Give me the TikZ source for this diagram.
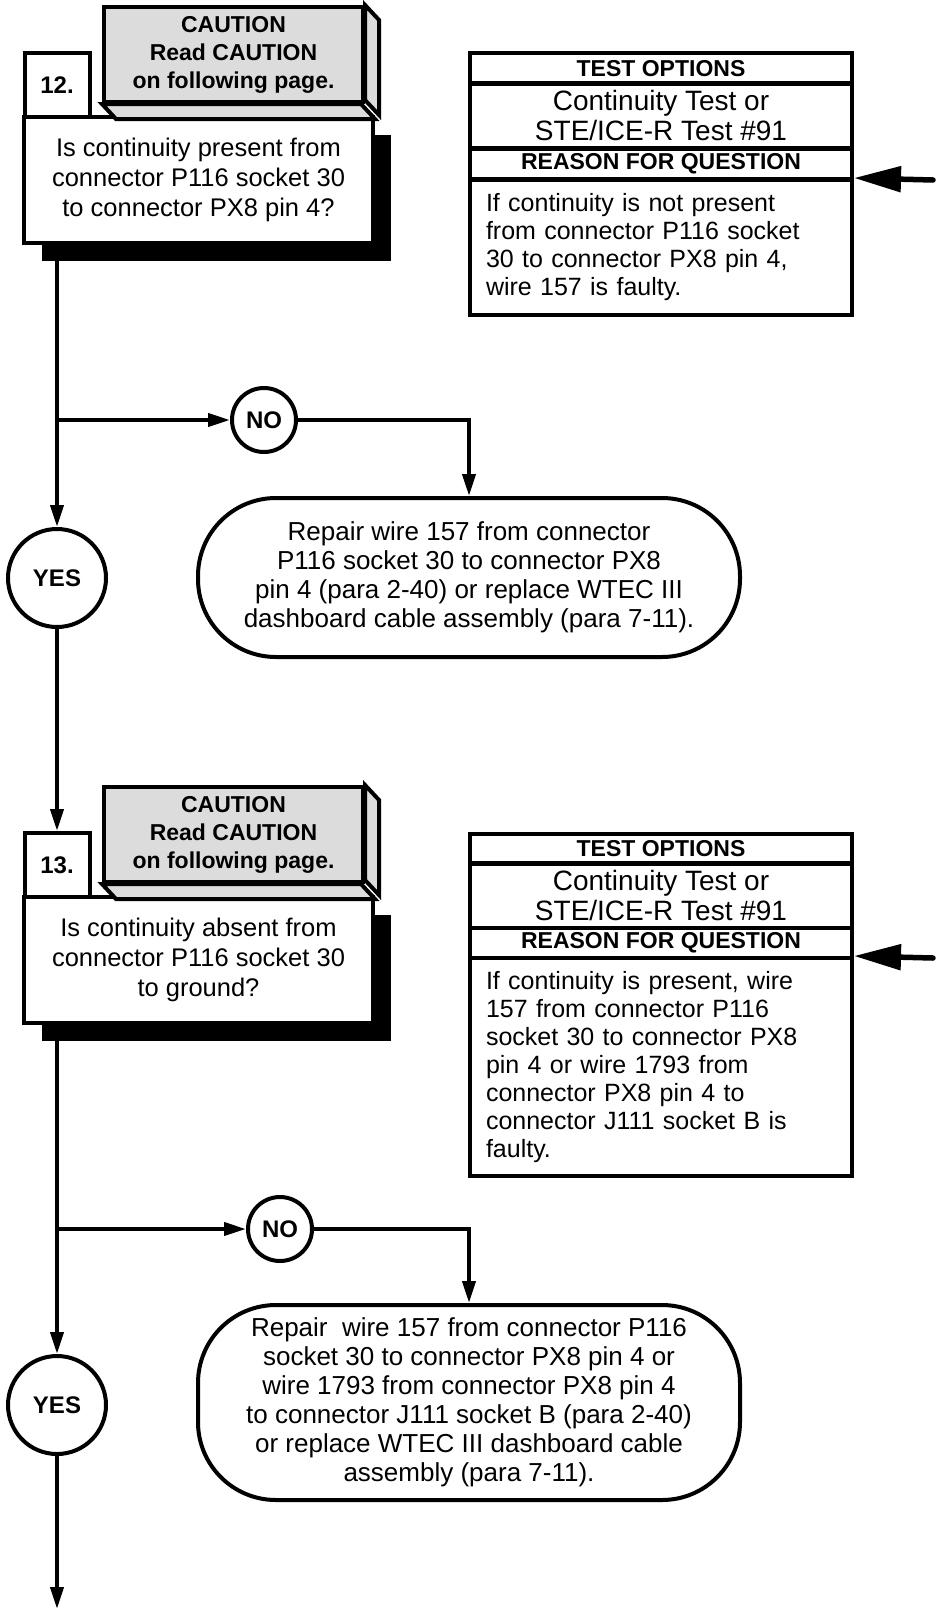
\documentclass[tikz,border=0pt]{standalone}
\usepackage{fontspec}
\setmainfont{Liberation Sans}
\usetikzlibrary{arrows.meta,shadows}
\definecolor{ink}{HTML}{000000}
\definecolor{panel}{HTML}{DCDCDC}

\begin{document}
\begin{tikzpicture}[x=1pt,y=-1pt,line width=4pt,draw=ink,
  every node/.style={font=\fontsize{25}{28}\selectfont,inner sep=0pt},
  flow/.style={-{Triangle[length=22pt,width=13pt]}},
  bigarrow/.style={line width=5.5pt,line cap=round,-{Triangle[length=47pt,width=25pt]}},
  qbox/.style={draw,fill=white,minimum width=349pt,minimum height=126pt,align=center,
    font=\fontsize{25.5}{30}\selectfont,
    drop shadow={shadow xshift=18pt,shadow yshift=-18pt,fill=black,opacity=1}},
  numbox/.style={draw,fill=white,minimum width=65pt,minimum height=64pt,font=\fontsize{24}{28}\selectfont\bfseries},
  caution/.style={draw,fill=panel,minimum width=259pt,minimum height=95pt,align=center,font=\fontsize{23}{28}\selectfont\bfseries},
  head/.style={draw,minimum width=382pt,minimum height=30pt,font=\fontsize{23}{28}\selectfont\bfseries},
  opts/.style={draw,minimum width=382pt,minimum height=65pt,align=center,font=\fontsize{28}{30}\selectfont},
  reason/.style={draw,text width=350pt,inner xsep=16pt,align=left},
  terminal/.style={draw,fill=white,rounded corners=78pt,minimum width=542pt,align=center,font=\fontsize{26}{29}\selectfont},
  answer/.style={draw,circle,fill=white,font=\fontsize{24}{28}\selectfont\bfseries}]
  \useasboundingbox (0,0) rectangle (940,1611);

  \node[qbox] (q12) at (198.5,180) {Is continuity present from\\connector P116 socket 30\\to connector PX8 pin 4?};
  \node[numbox] (n12) at (57,85) {12.};
  \node[caution] (c12) at (233.5,54.5) {CAUTION\\Read CAUTION\\on following page.};
  \draw[fill=panel] (c12.north east) -- ++(14,15) -- ++(0,95) -- ++(-14,-15) -- cycle;
  \draw[fill=panel] (c12.south west) -- ++(14,15) -- ++(259,0) -- ++(-14,-15) -- cycle;

  \node[head] (h12) at (661,68.5) {TEST OPTIONS};
  \node[opts] (o12) at (661,115.5) {Continuity Test or\\STE/ICE-R Test \#91};
  \node[head] (r12) at (661,164) {REASON FOR QUESTION};
  \node[reason,minimum height=135pt] (b12) at (661,247.5) {If continuity is not present\\from connector P116 socket\\30 to connector PX8 pin 4,\\wire 157 is faulty.};
  \coordinate (a12) at (933,180);
  \draw[bigarrow] (a12) -- (b12.north east);

  \coordinate (s12) at (57,243);
  \coordinate (j12) at (57,420);
  \node[answer,minimum size=64pt] (no12) at (264,420) {NO};
  \node[answer,minimum size=98pt] (y12) at (57,578) {YES};
  \node[terminal,minimum height=159pt] (e12) at (469,577.5) {Repair wire 157 from connector\\P116 socket 30 to connector PX8\\pin 4 (para 2-40) or replace WTEC III\\dashboard cable assembly (para 7-11).};
  \draw[flow] (s12) -- (y12);
  \draw[flow] (j12) -- (no12);
  \draw[flow] (no12) -| (e12);

  \node[qbox] (q13) at (198.5,960) {Is continuity absent from\\connector P116 socket 30\\to ground?};
  \node[numbox] (n13) at (57,865) {13.};
  \node[caution] (c13) at (233.5,834.5) {CAUTION\\Read CAUTION\\on following page.};
  \draw[fill=panel] (c13.north east) -- ++(14,15) -- ++(0,95) -- ++(-14,-15) -- cycle;
  \draw[fill=panel] (c13.south west) -- ++(14,15) -- ++(259,0) -- ++(-14,-15) -- cycle;
  \draw[flow] (y12) -- (n13);

  \node[head] (h13) at (661,848.5) {TEST OPTIONS};
  \node[opts] (o13) at (661,895.5) {Continuity Test or\\STE/ICE-R Test \#91};
  \node[head] (r13) at (661,943) {REASON FOR QUESTION};
  \node[reason,minimum height=218pt] (b13) at (661,1067) {If continuity is present, wire\\157 from connector P116\\socket 30 to connector PX8\\pin 4 or wire 1793 from\\connector PX8 pin 4 to\\connector J111 socket B is\\faulty.};
  \coordinate (a13) at (933,958);
  \draw[bigarrow] (a13) -- (b13.north east);

  \coordinate (s13) at (57,1023);
  \coordinate (j13) at (57,1229);
  \coordinate (fin) at (57,1609);
  \node[answer,minimum size=64pt] (no13) at (280,1229) {NO};
  \node[answer,minimum size=98pt] (y13) at (57,1405) {YES};
  \node[terminal,minimum height=195pt] (e13) at (469,1402.5) {Repair\ \ wire 157 from connector P116\\socket 30 to connector PX8 pin 4 or\\wire 1793 from connector PX8 pin 4\\to connector J111 socket B (para 2-40)\\or replace WTEC III dashboard cable\\assembly (para 7-11).};
  \draw[flow] (s13) -- (y13);
  \draw[flow] (j13) -- (no13);
  \draw[flow] (no13) -| (e13);
  \draw[flow] (y13) -- (fin);
\end{tikzpicture}
\end{document}
